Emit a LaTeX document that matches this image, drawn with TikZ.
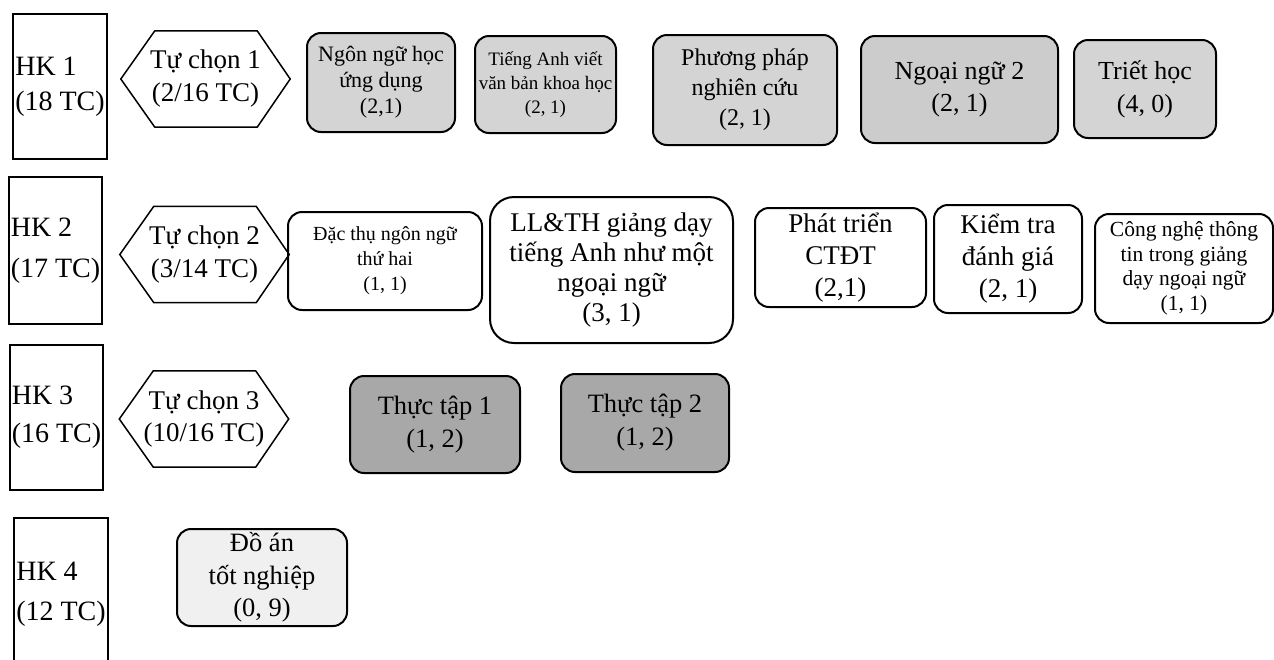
\documentclass[tikz,border=0pt]{standalone}
\usepackage{fontspec}
\setmainfont{Liberation Serif}
\usetikzlibrary{calc}

\begin{document}
\begin{tikzpicture}[x=1pt, y=-1pt,
    term/.style={draw, line width=1.5pt, align=left, inner sep=2pt, font=\fontsize{28}{35}\selectfont},
    choice/.style={minimum width=169pt, minimum height=96pt, inner sep=0pt, align=center, font=\fontsize{27}{33}\selectfont},
    course/.style={draw, line width=2pt, rounded corners=14pt, align=center, inner sep=2pt},
    core/.style={course, fill=black!17},
    intern/.style={course, fill=black!34},
    thesis/.style={course, fill=black!6}]
  \useasboundingbox (0,0) rectangle (1274,659);
  \clip (0,0) rectangle (1274,659);

  % HK 1
  \node (hk1) [term, minimum width=94pt, minimum height=145pt] at (60,86.5) {HK 1\\(18 TC)};
  \node (ch1) [choice] at (205.5,79) {Tự chọn 1\\(2/16 TC)};
  \node (nnhud) [core, minimum width=148pt, minimum height=99pt, font=\fontsize{22}{26}\selectfont] at (381,82.5) {Ngôn ngữ học\\ứng dụng\\(2,1)};
  \node (tavb) [core, minimum width=141pt, minimum height=97pt, font=\fontsize{19}{24}\selectfont] at (545.5,84.5) {Tiếng Anh viết\\văn bản khoa học\\(2, 1)};
  \node (ppnc) [core, minimum width=184pt, minimum height=110pt, font=\fontsize{24}{30}\selectfont] at (745,90) {Phương pháp\\nghiên cứu\\(2, 1)};
  \node (nn2) [core, fill=black!20, minimum width=197pt, minimum height=107pt, font=\fontsize{26}{32}\selectfont] at (959.5,89.5) {Ngoại ngữ 2\\(2, 1)};
  \node (th) [core, minimum width=142pt, minimum height=98pt, font=\fontsize{26}{33}\selectfont] at (1145,89) {Triết học\\(4, 0)};

  % HK 2
  \node (hk2) [term, minimum width=93pt, minimum height=147pt] at (55.5,250.5) {HK 2\\[6pt](17 TC)};
  \node (ch2) [choice] at (204.5,254.5) {Tự chọn 2\\(3/14 TC)};
  \node (dtnn) [course, minimum width=194pt, minimum height=98pt, font=\fontsize{20}{25}\selectfont] at (385,261) {Đặc thụ ngôn ngữ\\thứ hai\\(1, 1)};
  \node (llth) [course, rounded corners=24pt, minimum width=243pt, minimum height=146pt, font=\fontsize{27}{30}\selectfont] at (611.5,270) {LL\&TH giảng dạy\\tiếng Anh như một\\ngoại ngữ\\(3, 1)};
  \node (ptct) [course, minimum width=171pt, minimum height=99pt, font=\fontsize{27}{32}\selectfont] at (840.5,257.5) {Phát triển\\CTĐT\\(2,1)};
  \node (ktdg) [course, minimum width=148pt, minimum height=108pt, font=\fontsize{27}{32}\selectfont] at (1008,259) {Kiểm tra\\đánh giá\\(2, 1)};
  \node (cntt) [course, minimum width=178pt, minimum height=109pt, font=\fontsize{21.5}{24.5}\selectfont] at (1184,268.5) {Công nghệ thông\\tin trong giảng\\dạy ngoại ngữ\\(1, 1)};

  % HK 3
  \node (hk3) [term, minimum width=93pt, minimum height=145pt] at (56.5,417.5) {HK 3\\[3pt](16 TC)};
  \node (ch3) [choice, font=\fontsize{27}{32}\selectfont] at (204,419) {Tự chọn 3\\(10/16 TC)};
  \node (tt1) [intern, minimum width=170pt, minimum height=97pt, font=\fontsize{26.5}{33}\selectfont] at (435,424.5) {Thực tập 1\\(1, 2)};
  \node (tt2) [intern, minimum width=168pt, minimum height=98pt, font=\fontsize{26.5}{33}\selectfont] at (645,423) {Thực tập 2\\(1, 2)};

  % HK 4
  \node (hk4) [term, minimum width=94pt, minimum height=152pt] at (61,594) {HK 4\\[5pt](12 TC)};
  \node (datn) [thesis, minimum width=170pt, minimum height=97pt, font=\fontsize{26.5}{32.5}\selectfont] at (262,577.5) {Đồ án\\tốt nghiệp\\(0, 9)};

  % hexagons round the electives
  \foreach \c in {ch1,ch2,ch3}
    \draw [line width=1.5pt] ($(\c.north west)+(34,0)$) -- ($(\c.north east)+(-33,0)$) -- (\c.east)
      -- ($(\c.south east)+(-33,0)$) -- ($(\c.south west)+(34,0)$) -- (\c.west) -- cycle;
\end{tikzpicture}
\end{document}
